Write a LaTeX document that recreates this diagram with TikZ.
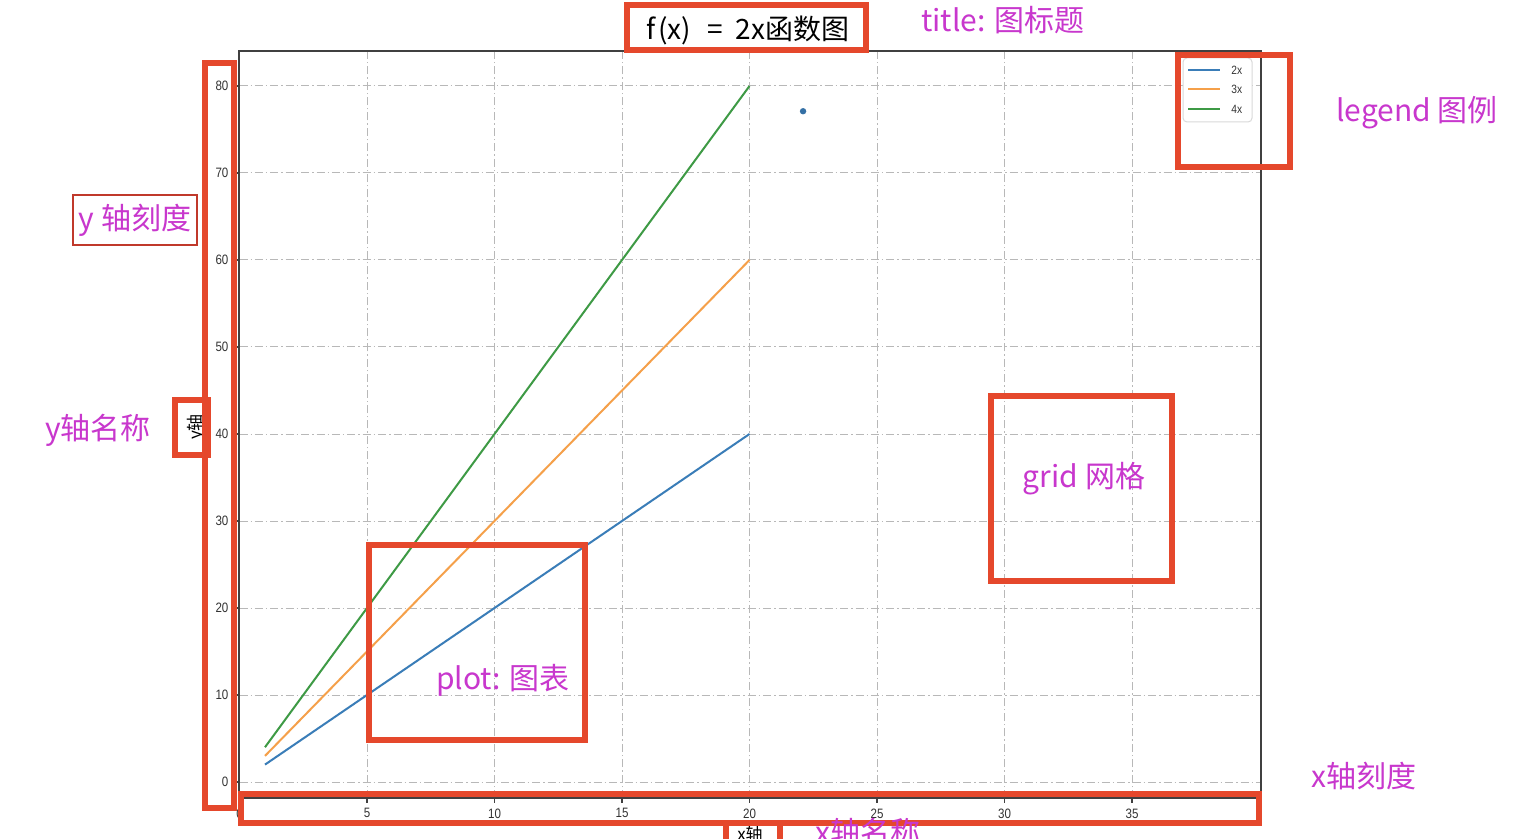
\documentclass[tikz,border=0pt]{standalone}
\usepackage{fontspec}
\setmainfont{Liberation Sans}
\newfontfamily\cjk{Noto Sans CJK SC}
\newfontfamily\tickfont[FakeStretch=0.85]{Liberation Sans}
\definecolor{mblue}{HTML}{3A7DB8}
\definecolor{morange}{HTML}{F5A04A}
\definecolor{mgreen}{HTML}{3E9A45}
\definecolor{redbox}{HTML}{E5482C}
\definecolor{thinred}{HTML}{C0392B}
\definecolor{annot}{RGB}{200,55,205}
\definecolor{gridgray}{HTML}{B8B8B8}
\tikzset{
  gridline/.style={draw=gridgray, line width=0.5pt, dash pattern=on 4pt off 1.5pt on 0.7pt off 1.5pt},
  axisline/.style={draw=black!75, line width=0.6pt},
  dataline/.style={line width=1pt},
  annobox/.style={draw=redbox, line width=2.6pt},
  thinbox/.style={draw=thinred, line width=0.7pt},
  annotext/.style={text=annot, font=\cjk\fontsize{15}{17}\selectfont, inner sep=0pt},
  ticklabel/.style={font=\tickfont\fontsize{6.8}{7}\selectfont, text=black!80, inner sep=0pt},
  axlabel/.style={font=\cjk\fontsize{8.5}{9}\selectfont, text=black, inner sep=0pt},
  legtext/.style={font=\tickfont\fontsize{6}{7}\selectfont, text=black!80, inner sep=0pt, anchor=west},
}
\begin{document}
\begin{tikzpicture}[x=0.5pt,y=-0.5pt]
\useasboundingbox (0,0) rectangle (1540,839);
\clip (0,0) rectangle (1540,839);
\fill[white] (0,0) rectangle (1540,839);

% data area
\begin{scope}[shift={(239.5,782)}, x=12.75pt, y=4.35pt]
  \foreach \i in {5,10,...,35} \draw[gridline] (\i,-1.84) -- (\i,84.0);
  \foreach \j in {0,10,...,80} \draw[gridline] (0,\j) -- (40.06,\j);
  \draw[dataline, mblue] (1,2) -- (20,40);
  \draw[dataline, morange] (1,3) -- (20,60);
  \draw[dataline, mgreen] (1,4) -- (20,80);
  \fill[mblue!90!black] (22.1,77.1) circle (1.6pt);
  % ticks and labels
  \foreach \i in {0,5,10,...,35} {
    \draw[axisline] (\i,-1.84) -- ++(0,-0.6);
    \node[ticklabel] (xt\i) at (\i,-3.6) {\i};
  }
  \foreach \j in {0,10,...,80} {
    \draw[axisline] (0,\j) -- ++(-0.2,0);
    \node[ticklabel, anchor=east] (yt\j) at (-0.42,\j) {\j};
  }
\end{scope}
\draw[axisline] (239,51) rectangle (1261,798);

% legend
\node[draw=black!15, rounded corners=2pt, fill=white, line width=0.5pt, minimum width=34.5pt, minimum height=32pt, inner sep=0pt] (legbox) at (1217.5,90) {};
\draw[dataline, mblue] (1188,70) -- (1220,70);
\draw[dataline, morange] (1188,89.5) -- (1220,89.5);
\draw[dataline, mgreen] (1188,109) -- (1220,109);
\node[legtext] (l2) at (1231,70) {2x};
\node[legtext] (l3) at (1231,89.5) {3x};
\node[legtext] (l4) at (1231,109) {4x};

% title and axis names
\node[font=\cjk\fontsize{14}{15}\selectfont, inner sep=0pt] (title) at (748,30) {f\kern1pt(x)\kern2pt\ \ =\ \ 2x函数图};
\node[axlabel, rotate=90] (ylab) at (196,427) {y轴};
\node[axlabel] (xlab) at (750,834) {x轴};

% annotation boxes
\draw[annobox] (627,5) rectangle (866,50);
\draw[annobox] (205,63) rectangle (234,808);
\draw[annobox] (175,400) rectangle (208,455);
\draw[annobox] (241,794) rectangle (1259,823);
\draw[annobox] (726,823) rectangle (780,845);
\draw[annobox] (369,545) rectangle (585,740);
\draw[annobox] (991,396) rectangle (1172,581);
\draw[annobox] (1178,55) rectangle (1290,167);
\draw[thinbox] (73,195) rectangle (197,245);

% annotation texts
\node[annotext] (ttitle) at (1003,20) {title: 图标题};
\node[annotext] (tlegend) at (1417,113) {legend 图例};
\node[annotext] (tytick) at (135,220) {y 轴刻度};
\node[annotext] (tyname) at (98,430) {y轴名称};
\node[annotext] (tgrid) at (1084,479) {grid 网格};
\node[annotext] (tplot) at (503,680) {plot: 图表};
\node[annotext] (txtick) at (1364,776) {x轴刻度};
\node[annotext] (txname) at (868,832) {x轴名称};
\end{tikzpicture}
\end{document}
